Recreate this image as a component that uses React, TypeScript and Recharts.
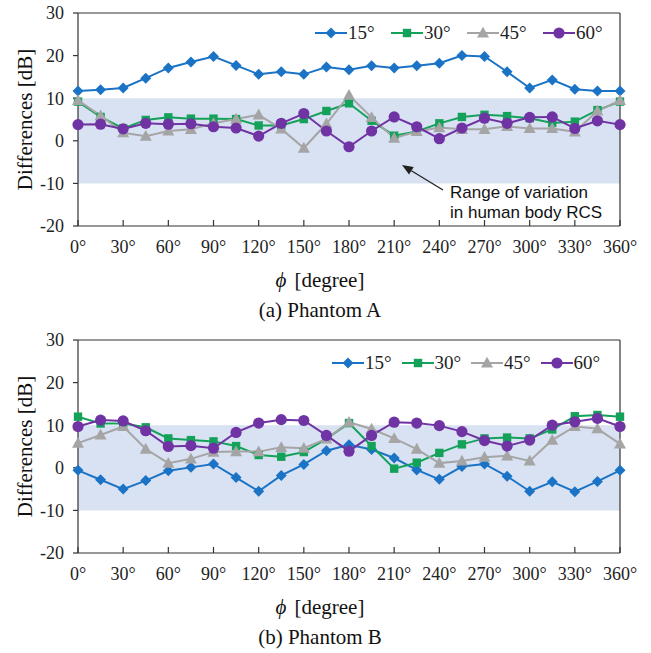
import React from 'react';
import {
  LineChart,
  Line,
  XAxis,
  YAxis,
  ReferenceArea,
  ReferenceLine,
  Legend,
} from 'recharts';

// ---------- data ----------
const PHI = [0, 15, 30, 45, 60, 75, 90, 105, 120, 135, 150, 165, 180, 195, 210, 225, 240, 255, 270, 285, 300, 315, 330, 345, 360];
const X_TICKS = [0, 30, 60, 90, 120, 150, 180, 210, 240, 270, 300, 330, 360];
const Y_TICKS = [-20, -10, 0, 10, 20, 30];
const SERIES_NAMES = ['15°', '30°', '45°', '60°'];

// Phantom A
const A_15 = [11.7, 12.0, 12.4, 14.7, 17.1, 18.5, 19.8, 17.7, 15.6, 16.2, 15.6, 17.3, 16.7, 17.6, 17.1, 17.6, 18.2, 20.0, 19.8, 16.2, 12.4, 14.3, 12.1, 11.7, 11.7];
const A_30 = [9.2, 5.6, 2.9, 4.9, 5.5, 5.2, 5.2, 5.1, 3.6, 3.6, 5.1, 7.0, 8.8, 4.7, 1.2, 2.2, 4.1, 5.6, 6.1, 5.8, 5.3, 4.2, 4.5, 7.2, 9.2];
const A_45 = [9.5, 5.9, 1.9, 1.1, 2.3, 2.7, 4.1, 5.1, 6.1, 2.8, -1.7, 4.0, 10.7, 5.5, 0.6, 2.2, 3.1, 2.7, 2.7, 3.4, 2.9, 2.9, 2.1, 7.0, 9.5];
const A_60 = [3.8, 3.9, 2.8, 4.1, 3.9, 4.0, 3.3, 3.0, 1.1, 4.1, 6.4, 2.3, -1.4, 2.3, 5.6, 3.3, 0.5, 3.0, 5.3, 4.1, 5.5, 5.6, 2.9, 4.7, 3.8];

// Phantom B
const B_15 = [-0.6, -2.8, -5.0, -3.0, -0.7, 0.1, 0.9, -2.3, -5.5, -1.8, 0.8, 4.0, 5.4, 4.3, 2.3, -0.5, -2.7, 0.3, 0.9, -2.0, -5.5, -3.3, -5.6, -3.2, -0.6];
const B_30 = [12.0, 10.4, 10.4, 9.5, 6.9, 6.5, 6.2, 5.1, 3.0, 2.6, 3.7, 6.8, 10.5, 5.1, -0.2, 1.2, 3.5, 5.5, 6.9, 7.1, 6.9, 9.0, 12.1, 12.4, 12.0];
const B_45 = [5.8, 7.7, 9.7, 4.4, 1.1, 2.1, 3.7, 3.8, 3.8, 4.8, 4.6, 6.8, 10.7, 9.1, 6.9, 4.4, 1.1, 1.6, 2.5, 2.8, 1.6, 6.5, 9.7, 9.2, 5.6];
const B_60 = [9.7, 11.2, 11.0, 8.7, 5.0, 5.2, 4.6, 8.3, 10.5, 11.3, 11.1, 7.6, 3.9, 7.6, 10.7, 10.5, 9.9, 8.5, 6.4, 5.1, 6.5, 10.0, 10.8, 11.6, 9.7];

// ---------- styles ----------
const SERIF = '"Liberation Serif", "Times New Roman", Times, serif';
const SANS = '"Liberation Sans", Arial, Helvetica, sans-serif';
const AXIS_COLOR = '#333333';
const BAND = '#d9e2f3';

type Shape = 'diamond' | 'square' | 'triangle' | 'circle';
const SERIES: { key: string; color: string; shape: Shape }[] = [
  { key: 's15', color: '#1b73c6', shape: 'diamond' },
  { key: 's30', color: '#14a15a', shape: 'square' },
  { key: 's45', color: '#a5a5a5', shape: 'triangle' },
  { key: 's60', color: '#7033a3', shape: 'circle' },
];

const W = 651;
const H = 330;
const MARGIN = { top: 13, right: 31, left: 0, bottom: 0 };
const Y_AXIS_W = 78;
const X_AXIS_H = 104;
const PLOT_BOTTOM = H - X_AXIS_H; // 226
const PLOT_TOP = MARGIN.top;
const CENTER_X = 320;

function renderMarker(shape: Shape, cx: number, cy: number, color: string, key?: any) {
  switch (shape) {
    case 'diamond':
      return (
        <polygon key={key} points={`${cx},${cy - 5.5} ${cx + 5.5},${cy} ${cx},${cy + 5.5} ${cx - 5.5},${cy}`} fill={color} />
      );
    case 'square':
      return <rect key={key} x={cx - 4.2} y={cy - 4.2} width={8.4} height={8.4} fill={color} />;
    case 'triangle':
      return (
        <polygon key={key} points={`${cx},${cy - 6.2} ${cx + 6},${cy + 4.6} ${cx - 6},${cy + 4.6}`} fill={color} />
      );
    default:
      return <circle key={key} cx={cx} cy={cy} r={5.6} fill={color} />;
  }
}

function makeDot(shape: Shape, color: string) {
  return (props: any) => {
    const { cx, cy, index } = props;
    if (cx == null || cy == null) return <g key={`e-${index}`} />;
    return renderMarker(shape, cx, cy, color, `${shape}-${index}`);
  };
}

function buildRows(v15: number[], v30: number[], v45: number[], v60: number[]) {
  return PHI.map((phi, i) => ({ phi, s15: v15[i], s30: v30[i], s45: v45[i], s60: v60[i] }));
}

const XTick = (props: any) => {
  const { x, y, payload } = props;
  return (
    <g>
      <line x1={x} y1={y} x2={x} y2={y - 6} stroke={AXIS_COLOR} strokeWidth={1.2} />
      <text x={x} y={y + 27} textAnchor="middle" style={{ fontFamily: SERIF, fontSize: 18 }} fill="#222">
        {`${payload.value}°`}
      </text>
    </g>
  );
};

const LegendBox = ({ pitch }: { pitch: number }) => (
  <div style={{ display: 'flex', alignItems: 'center', height: 20 }}>
    {SERIES.map((s, i) => (
      <div key={s.key} style={{ display: 'flex', alignItems: 'center', width: pitch }}>
        <svg width={32} height={14} style={{ display: 'block' }}>
          <line x1={0} y1={7} x2={32} y2={7} stroke={s.color} strokeWidth={2} />
          {renderMarker(s.shape, 16, 7, s.color)}
        </svg>
        <span style={{ fontFamily: SERIF, fontSize: 19, color: '#222', marginLeft: 1, lineHeight: '20px' }}>
          {SERIES_NAMES[i]}
        </span>
      </div>
    ))}
  </div>
);

const AnnotationOverlay = () => {
  const tail = { x: 443, y: 190 };
  const tip = { x: 402, y: 165 };
  const dx = tip.x - tail.x;
  const dy = tip.y - tail.y;
  const len = Math.sqrt(dx * dx + dy * dy);
  const ux = dx / len;
  const uy = dy / len;
  const hl = 11;
  const hw = 4.5;
  const bx = tip.x - ux * hl;
  const by = tip.y - uy * hl;
  const px = -uy * hw;
  const py = ux * hw;
  return (
    <svg
      width={W}
      height={H}
      style={{ position: 'absolute', left: 0, top: 0, pointerEvents: 'none', overflow: 'visible' }}
    >
      <line x1={tail.x} y1={tail.y} x2={bx} y2={by} stroke="#222" strokeWidth={1.3} />
      <polygon points={`${tip.x},${tip.y} ${bx + px},${by + py} ${bx - px},${by - py}`} fill="#222" />
      <text x={450} y={198} style={{ fontFamily: SANS, fontSize: 17 }} fill="#111">
        Range of variation
      </text>
      <text x={450} y={217.5} style={{ fontFamily: SANS, fontSize: 17 }} fill="#111">
        in human body RCS
      </text>
    </svg>
  );
};

function Panel({
  rows,
  caption,
  legendLeft,
  legendTop,
  pitch,
}: {
  rows: any[];
  caption: string;
  legendLeft: number;
  legendTop: number;
  pitch: number;
}) {
  const midY = (PLOT_TOP + PLOT_BOTTOM) / 2;
  return (
    <LineChart width={W} height={H} data={rows} margin={MARGIN}>
      <ReferenceArea y1={-10} y2={10} fill={BAND} fillOpacity={1} stroke="none" ifOverflow="visible" />
      <ReferenceLine y={30} stroke={AXIS_COLOR} strokeWidth={1.2} />
      <ReferenceLine x={360} stroke={AXIS_COLOR} strokeWidth={1.2} />
      <XAxis
        dataKey="phi"
        type="number"
        domain={[0, 360]}
        ticks={X_TICKS}
        interval={0}
        height={X_AXIS_H}
        stroke={AXIS_COLOR}
        axisLine={{ stroke: AXIS_COLOR, strokeWidth: 1.2 }}
        tickLine={false}
        tickSize={0}
        tickMargin={0}
        tick={<XTick />}
        label={() => (
          <g>
            <text x={CENTER_X} y={PLOT_BOTTOM + 61} textAnchor="middle" style={{ fontFamily: SERIF, fontSize: 21 }} fill="#111">
              <tspan fontStyle="italic">ϕ</tspan>
              <tspan dx={8}>[degree]</tspan>
            </text>
            <text x={CENTER_X} y={PLOT_BOTTOM + 91} textAnchor="middle" style={{ fontFamily: SERIF, fontSize: 21 }} fill="#111">
              {caption}
            </text>
          </g>
        )}
      />
      <YAxis
        type="number"
        domain={[-20, 30]}
        ticks={Y_TICKS}
        interval={0}
        width={Y_AXIS_W}
        axisLine={{ stroke: AXIS_COLOR, strokeWidth: 1.2 }}
        tickLine={{ stroke: AXIS_COLOR, strokeWidth: 1.2 }}
        tickSize={5}
        tickMargin={9}
        tick={{ fontFamily: SERIF, fontSize: 18, fill: '#222', style: { fontFamily: SERIF } }}
        label={() => (
          <text
            x={25}
            y={midY}
            transform={`rotate(-90 25 ${midY})`}
            textAnchor="middle"
            dominantBaseline="central"
            style={{ fontFamily: SERIF, fontSize: 21 }}
            fill="#111"
          >
            Differences [dB]
          </text>
        )}
      />
      {SERIES.map((s, i) => (
        <Line
          key={s.key}
          dataKey={s.key}
          name={SERIES_NAMES[i]}
          type="linear"
          stroke={s.color}
          strokeWidth={2}
          dot={makeDot(s.shape, s.color)}
          activeDot={false}
          isAnimationActive={false}
        />
      ))}
      <Legend
        layout="vertical"
        align="center"
        verticalAlign="middle"
        content={() => <LegendBox pitch={pitch} />}
        wrapperStyle={{ top: legendTop - 10, left: legendLeft, width: pitch * 4, height: 20 }}
      />
    </LineChart>
  );
}

const ROWS_A = buildRows(A_15, A_30, A_45, A_60);
const ROWS_B = buildRows(B_15, B_30, B_45, B_60);

export default function App() {
  return (
    <div
      style={{
        position: 'absolute',
        left: 0,
        top: 0,
        width: 651,
        height: 653,
        overflow: 'hidden',
        background: '#fff',
        fontFamily: SERIF,
      }}
    >
      <div style={{ position: 'absolute', left: 0, top: 0, width: W, height: H }}>
        <Panel rows={ROWS_A} caption="(a) Phantom A" legendLeft={315} legendTop={33} pitch={76} />
        <AnnotationOverlay />
      </div>
      <div style={{ position: 'absolute', left: 0, top: 327, width: W, height: H }}>
        <Panel rows={ROWS_B} caption="(b) Phantom B" legendLeft={332} legendTop={36} pitch={69.5} />
      </div>
    </div>
  );
}
